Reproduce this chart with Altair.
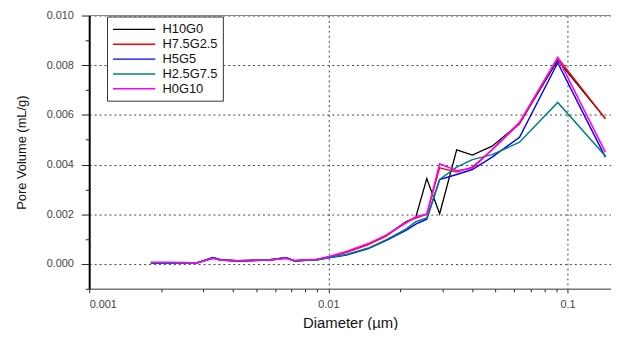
import altair as alt
import pandas as pd

diameter = [0.00181, 0.00214, 0.00252, 0.0028, 0.00329, 0.00355, 0.00418, 0.00491,
            0.00573, 0.00667, 0.0072, 0.00896, 0.01005, 0.0119, 0.0147, 0.0175,
            0.0211, 0.0232, 0.0258, 0.0292, 0.0344, 0.040, 0.0484, 0.063, 0.091, 0.144]

h10g0 = [0.00005, 0.00004, 0.00003, 0.00003, 0.00025, 0.00016, 0.00012, 0.00014,
         0.00017, 0.00026, 0.00012, 0.00018, 0.00028, 0.00048, 0.0008, 0.00115,
         0.0017, 0.00188, 0.00344, 0.00202, 0.00459, 0.00438, 0.00474, 0.00565, 0.0082, 0.00585]
h75g25 = [0.00005, 0.00005, 0.00004, 0.00003, 0.00024, 0.00016, 0.00012, 0.00014,
          0.00016, 0.00024, 0.00013, 0.00018, 0.00028, 0.00047, 0.00078, 0.00113,
          0.00168, 0.00185, 0.0020, 0.00387, 0.0037, 0.0039, 0.0046, 0.00565, 0.0083, 0.00585]
h5g5 = [0.00004, 0.00005, 0.00004, 0.00003, 0.00026, 0.00017, 0.00013, 0.00015,
        0.00017, 0.00024, 0.00013, 0.00017, 0.00025, 0.00036, 0.00062, 0.00095,
        0.00135, 0.0016, 0.0018, 0.0034, 0.0036, 0.0038, 0.0043, 0.0051, 0.0081, 0.0043]
h25g75 = [0.00004, 0.00004, 0.00003, 0.00003, 0.00024, 0.00016, 0.00013, 0.00015,
          0.00018, 0.00025, 0.00013, 0.00016, 0.00026, 0.00038, 0.00064, 0.00098,
          0.0014, 0.0017, 0.00185, 0.0034, 0.0039, 0.0042, 0.0044, 0.0049, 0.0065, 0.00435]
h0g10 = [0.00007, 0.00007, 0.00006, 0.00004, 0.00022, 0.00016, 0.00013, 0.00015,
         0.00016, 0.00022, 0.00014, 0.00019, 0.0003, 0.0005, 0.00082, 0.00117,
         0.00165, 0.0019, 0.0020, 0.00403, 0.00375, 0.00385, 0.0046, 0.0057, 0.0083, 0.0045]

series_names = ["H10G0", "H7.5G2.5", "H5G5", "H2.5G7.5", "H0G10"]
series_values = [h10g0, h75g25, h5g5, h25g75, h0g10]
colors = ["#000000", "#ff0000", "#0000ff", "#008080", "#ff00ff"]
widths = [1.3, 1.6, 1.6, 1.2, 2.2]

y_major = [0.0, 0.002, 0.004, 0.006, 0.008, 0.010]
y_minor = [-0.001, 0.001, 0.003, 0.005, 0.007, 0.009]
x_major = [0.001, 0.01, 0.1]
x_minor = [0.002, 0.003, 0.004, 0.005, 0.006, 0.007, 0.008, 0.009,
           0.02, 0.03, 0.04, 0.05, 0.06, 0.07, 0.08, 0.09]

rows = []
for name, vals in zip(series_names, series_values):
    for i, (d, v) in enumerate(zip(diameter, vals)):
        rows.append({"series": name, "d": d, "v": v, "i": i})
df = pd.DataFrame(rows)

xscale = alt.Scale(type="log", domain=[0.001, 0.152], nice=False)
yscale = alt.Scale(domain=[-0.001, 0.010], nice=False, zero=False)
FONT = "Liberation Sans"

lines = alt.Chart(df).mark_line(clip=True).encode(
    x=alt.X("d:Q", scale=xscale, axis=alt.Axis(
        values=x_major, format="~g", title="Diameter (µm)", grid=True,
        gridDash=[2, 3], gridColor="#444", gridWidth=1,
        domainColor="#777", domainWidth=1.5, tickColor="#222", tickSize=4,
        labelPadding=6, labelFontSize=11, labelColor="#444", labelFont=FONT,
        titleFont=FONT, titleFontSize=15, titleFontWeight="normal", titleColor="#111",
        titlePadding=6, orient="bottom")),
    y=alt.Y("v:Q", scale=yscale, axis=alt.Axis(
        values=y_major, format=".3f", title="Pore Volume (mL/g)", grid=True,
        gridDash=[2, 3], gridColor="#444", gridWidth=1,
        domainColor="#000", domainWidth=2, tickColor="#222", tickSize=8,
        labelPadding=8, labelFontSize=11, labelColor="#444", labelFont=FONT,
        titleFont=FONT, titleFontSize=13, titleFontWeight="normal", titleColor="#111",
        titlePadding=18, orient="left")),
    color=alt.Color("series:N", sort=series_names,
                    scale=alt.Scale(domain=series_names, range=colors),
                    legend=alt.Legend(
                        title=None, orient="none", legendX=18, legendY=1,
                        strokeColor="#333", fillColor="white", padding=5,
                        symbolType="M-1,0H5.1", symbolSize=196, symbolStrokeWidth=1.5,
                        rowPadding=0, labelOffset=35, labelFontSize=13,
                        labelFont=FONT, labelColor="#111")),
    strokeWidth=alt.StrokeWidth("series:N", sort=series_names,
                                scale=alt.Scale(domain=series_names, range=widths),
                                legend=None),
    order="i:Q",
)

minor = alt.Chart(df).mark_line(strokeOpacity=0).encode(
    x=alt.X("d:Q", scale=xscale, axis=alt.Axis(
        values=x_minor, labels=False, domain=False, grid=False, tickSize=3,
        tickColor="#222", title=None, orient="bottom")),
    y=alt.Y("v:Q", scale=yscale, axis=alt.Axis(
        values=y_minor, labels=False, domain=False, grid=False, tickSize=4,
        tickColor="#222", title=None, orient="left")),
    detail="series:N",
)

top = alt.Chart(df).mark_rule(color="#888", strokeWidth=1.2).encode(
    y=alt.YDatum(0.010, scale=yscale, axis=None)
)

chart = alt.layer(lines, minor, top).resolve_axis(
    x="independent", y="independent"
).properties(
    width=527, height=276, autosize="none",
    padding={"left": 82, "top": 6, "right": 0, "bottom": 40},
).configure_view(stroke=None)

chart.save("out.html", embed_options={"renderer": "svg", "actions": False})
